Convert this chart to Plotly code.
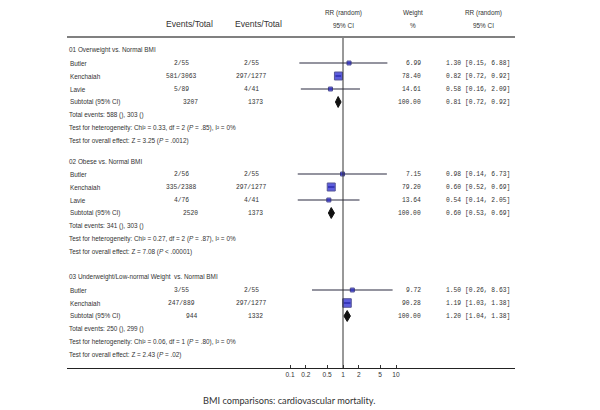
import numpy as np
import plotly.graph_objects as go

# --- data ---
group_titles = ["01 Overweight vs. Normal BMI",
                "02 Obese vs. Normal BMI",
                "03 Underweight/Low-normal Weight  vs. Normal BMI"]
studies = [["Butler", "Kenchaiah", "Lavie"],
           ["Butler", "Kenchaiah", "Lavie"],
           ["Butler", "Kenchaiah"]]
events_exp = [["2/55", "581/3063", "5/89"],
              ["2/56", "335/2388", "4/76"],
              ["3/55", "247/889"]]
events_ctl = [["2/55", "297/1277", "4/41"],
              ["2/55", "297/1277", "4/41"],
              ["2/55", "297/1277"]]
rr = [[1.30, 0.82, 0.58], [0.98, 0.60, 0.54], [1.50, 1.19]]
rr_lo = [[0.15, 0.72, 0.16], [0.14, 0.52, 0.14], [0.26, 1.03]]
rr_hi = [[6.88, 0.92, 2.09], [6.73, 0.69, 2.05], [8.63, 1.38]]
weights = [[6.99, 78.40, 14.61], [7.15, 79.20, 13.64], [9.72, 90.28]]

sub_total_exp = [3207, 2520, 944]
sub_total_ctl = [1373, 1373, 1332]
sub_rr = [0.81, 0.60, 1.20]
sub_lo = [0.72, 0.53, 1.04]
sub_hi = [0.92, 0.69, 1.38]
total_events = ["588 (), 303 ()", "341 (), 303 ()", "250 (), 299 ()"]
chi2 = ["0.33", "0.27", "0.06"]
df = [2, 2, 1]
p_het = ["= .85", "= .87", "= .80"]
z_vals = ["3.25", "7.08", "2.43"]
p_overall = ["= .0012", "< .00001", "= .02"]

tick_vals = [0.1, 0.2, 0.5, 1, 2, 5, 10]
tick_text = ["0.1", "0.2", "0.5", "1", "2", "5", "10"]

caption = "BMI comparisons: cardiovascular mortality."

# --- layout helpers (pixels of the 600x410 picture) ---
W, H = 600, 410
L, R, T, B = 67, 515, 37, 368          # plot box = the two rules
LINE = 13.0                            # text line height in px
ROW0 = 50                              # y of first group title
group_start_px = [50, 161, 277]
PX_PER_DEC = 53.0
X_ONE = 343.0


def px_x(px):
    return (px - L) / (R - L)


def px_yrow(py):
    return (py - ROW0) / LINE


def px_ypaper(py):
    return (B - py) / (B - T)


label_font = dict(family="Liberation Sans Narrow, Liberation Sans, Arial", size=6.4, color="#333")
mono_font = dict(family="Liberation Mono, DejaVu Sans Mono, monospace", size=6.3, color="#333")
head_font = dict(family="Liberation Sans, Arial", size=8.6, color="#333")

fig = go.Figure()
ann = []

for g, title in enumerate(group_titles):
    y0 = px_yrow(group_start_px[g])
    n = len(studies[g])
    ys = [y0 + 1 + i for i in range(n)]
    y_sub = y0 + n + 1

    ann.append(dict(x=px_x(67), y=y0, text=title, font=label_font, xanchor="left"))
    for i in range(n):
        ann.append(dict(x=px_x(68), y=ys[i], text=studies[g][i], font=label_font, xanchor="left"))
        ann.append(dict(x=px_x(181), y=ys[i], text=events_exp[g][i], font=mono_font, xanchor="center"))
        ann.append(dict(x=px_x(251), y=ys[i], text=events_ctl[g][i], font=mono_font, xanchor="center"))
        ann.append(dict(x=px_x(423), y=ys[i], text=f"{weights[g][i]:.2f}", font=mono_font, xanchor="right"))
        ann.append(dict(x=px_x(444), y=ys[i],
                        text=f"{rr[g][i]:.2f} [{rr_lo[g][i]:.2f}, {rr_hi[g][i]:.2f}]",
                        font=mono_font, xanchor="left"))

    ann.append(dict(x=px_x(68), y=y_sub, text="Subtotal (95% CI)", font=label_font, xanchor="left"))
    ann.append(dict(x=px_x(200), y=y_sub, text=str(sub_total_exp[g]), font=mono_font, xanchor="right"))
    ann.append(dict(x=px_x(265), y=y_sub, text=str(sub_total_ctl[g]), font=mono_font, xanchor="right"))
    ann.append(dict(x=px_x(423), y=y_sub, text="100.00", font=mono_font, xanchor="right"))
    ann.append(dict(x=px_x(444), y=y_sub,
                    text=f"{sub_rr[g]:.2f} [{sub_lo[g]:.2f}, {sub_hi[g]:.2f}]",
                    font=mono_font, xanchor="left"))
    ann.append(dict(x=px_x(67), y=y_sub + 1, text="Total events: " + total_events[g],
                    font=label_font, xanchor="left"))
    ann.append(dict(x=px_x(67), y=y_sub + 2,
                    text=f"Test for heterogeneity: Chi² = {chi2[g]}, df = {df[g]} (<i>P</i> {p_het[g]}), I² = 0%",
                    font=label_font, xanchor="left"))
    ann.append(dict(x=px_x(67), y=y_sub + 3,
                    text=f"Test for overall effect: Z = {z_vals[g]} (<i>P</i> {p_overall[g]})",
                    font=label_font, xanchor="left"))

    # confidence interval lines
    cx, cy = [], []
    for i in range(n):
        cx += [rr_lo[g][i], rr_hi[g][i], None]
        cy += [ys[i], ys[i], None]
    fig.add_trace(go.Scatter(x=cx, y=cy, mode="lines",
                             line=dict(color="#2b2b40", width=1.2), hoverinfo="skip"))
    # point estimates, sized by weight
    sizes = [max(4.0, 0.9 * np.sqrt(w)) for w in weights[g]]
    fig.add_trace(go.Scatter(x=rr[g], y=ys, mode="markers",
                             marker=dict(symbol="square", size=sizes, color="#1a1ad0",
                                         line=dict(color="#10106a", width=1)),
                             hoverinfo="skip"))
    # subtotal diamond
    h = 0.42
    fig.add_trace(go.Scatter(x=[sub_lo[g], sub_rr[g], sub_hi[g], sub_rr[g], sub_lo[g]],
                             y=[y_sub, y_sub - h, y_sub, y_sub + h, y_sub],
                             mode="lines", fill="toself", fillcolor="#111",
                             line=dict(color="#111", width=1), hoverinfo="skip"))

# column headers above the top rule
hy1, hy2, hy_mid = px_ypaper(13), px_ypaper(25), px_ypaper(24)
ann += [
    dict(x=px_x(189), y=hy_mid, text="Events/Total", font=head_font),
    dict(x=px_x(258), y=hy_mid, text="Events/Total", font=head_font),
    dict(x=px_x(343), y=hy1, text="RR (random)", font=label_font),
    dict(x=px_x(343), y=hy2, text="95% CI", font=label_font),
    dict(x=px_x(413), y=hy1, text="Weight", font=label_font),
    dict(x=px_x(413), y=hy2, text="%", font=label_font),
    dict(x=px_x(483), y=hy1, text="RR (random)", font=label_font),
    dict(x=px_x(483), y=hy2, text="95% CI", font=label_font),
    dict(x=px_x(289), y=px_ypaper(400), text=caption,
         font=dict(family="Lato, Open Sans, sans-serif", size=9.2, color="#333")),
]
for a in ann:
    a.setdefault("xref", "paper")
    a.setdefault("yref", "paper")
    a.setdefault("xanchor", "center")
    a.setdefault("showarrow", False)
    a.setdefault("yanchor", "middle")
for a in ann[:-9]:
    a["yref"] = "y"

x_left = (L - X_ONE) / PX_PER_DEC
x_right = (R - X_ONE) / PX_PER_DEC

fig.update_layout(
    width=W, height=H,
    margin=dict(l=L, r=W - R, t=T, b=H - B, pad=0),
    paper_bgcolor="white", plot_bgcolor="white",
    showlegend=False,
    annotations=ann,
    shapes=[
        # vertical line of no effect
        dict(type="line", xref="x", yref="paper", x0=1, x1=1, y0=0, y1=1,
             line=dict(color="#333", width=1)),
        # grey rule under the column headers
        dict(type="line", xref="paper", yref="paper", x0=0, x1=1, y0=1, y1=1,
             line=dict(color="#808080", width=1.8)),
    ],
    xaxis=dict(type="log", range=[x_left, x_right], tickvals=tick_vals, ticktext=tick_text,
               ticks="inside", ticklen=3, tickcolor="#333", showgrid=False,
               showline=True, linecolor="#222", linewidth=1.2,
               tickfont=dict(family="Liberation Sans Narrow, Liberation Sans, Arial", size=6.6, color="#333"),
               zeroline=False, fixedrange=True),
    yaxis=dict(range=[px_yrow(B), px_yrow(T)], visible=False, fixedrange=True),
)

# page body has an 8px default margin; drop it so the figure fills the window
fig.write_html("out.html", config={"displayModeBar": False},
               post_script="document.body.style.margin='0';")
